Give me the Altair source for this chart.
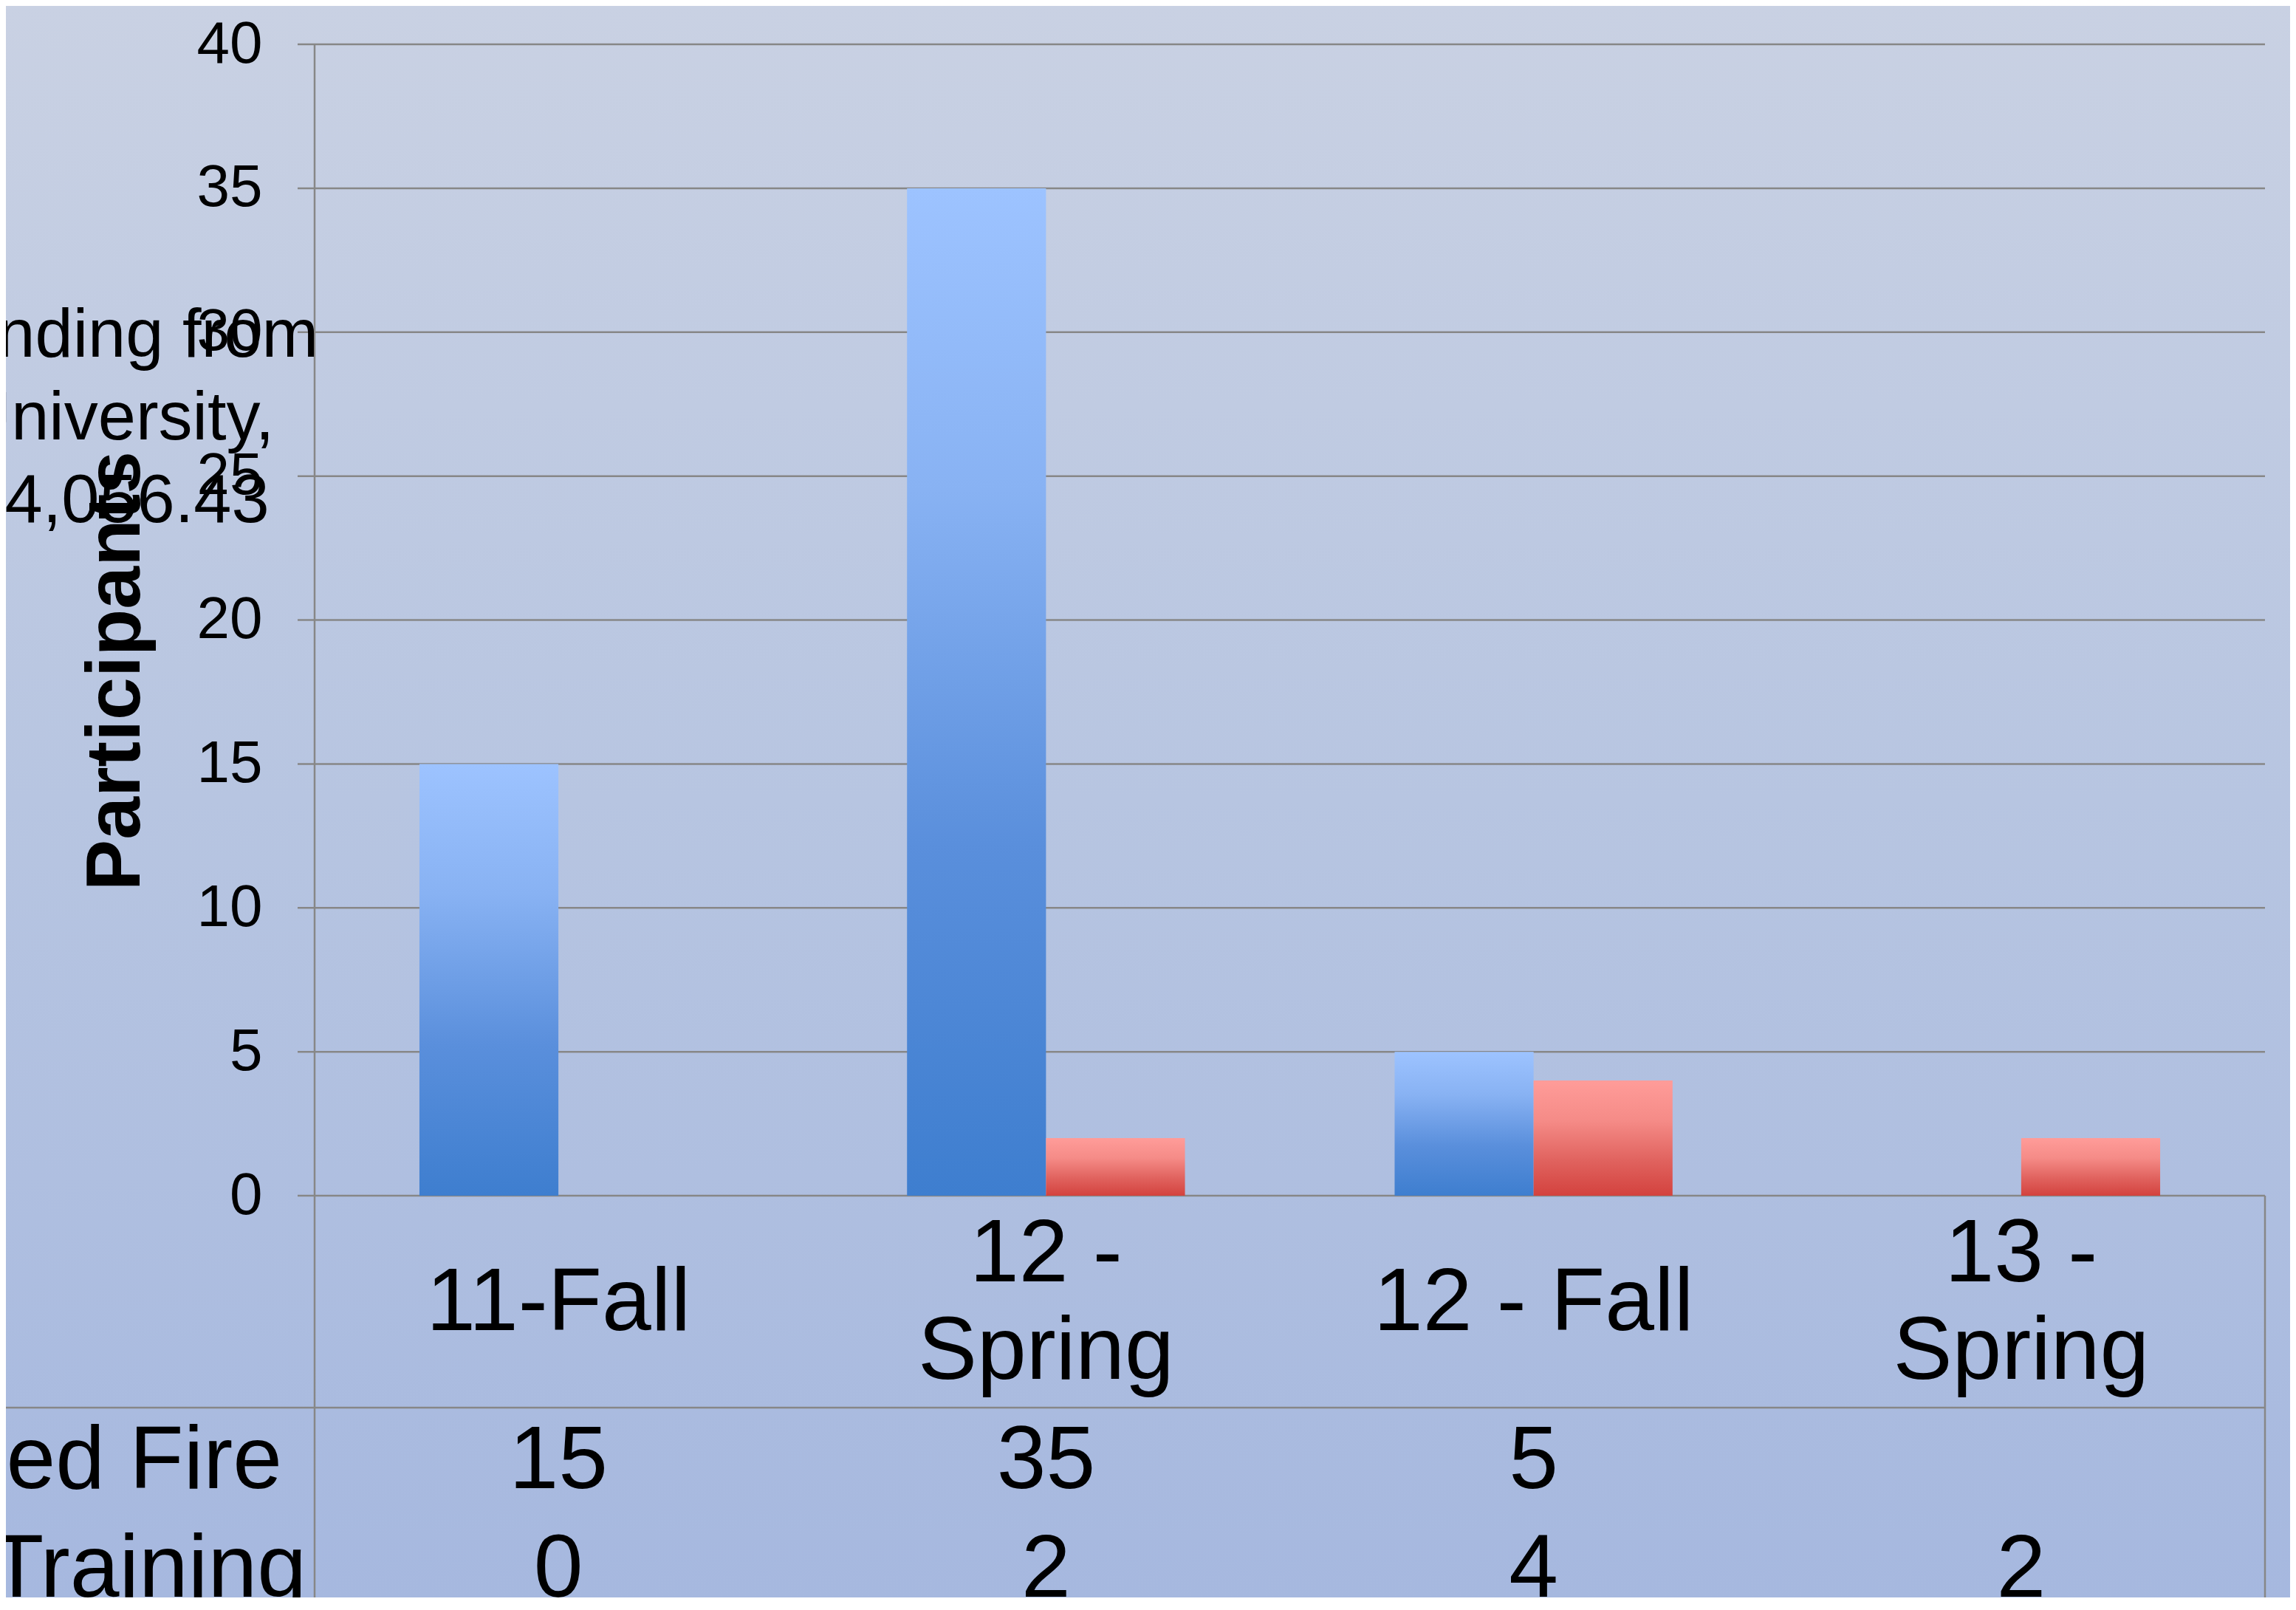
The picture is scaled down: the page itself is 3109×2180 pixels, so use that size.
import altair as alt
import pandas as pd

# ---------------- data ----------------
categories = ["11-Fall", "12 - Spring", "12 - Fall", "13 - Spring"]
category_labels = ["11-Fall", "12 -\nSpring", "12 - Fall", "13 -\nSpring"]
series = ["ed Fire", "Training"]
funded_values = [15, 35, 5, None]
training_values = [0, 2, 4, 2]
y_ticks = [0, 5, 10, 15, 20, 25, 30, 35, 40]
y_title = "Participants"
note_text = "Funding from\nUniversity,\n$4,056.43"

# ---------------- layout ----------------
FONT = "Liberation Sans"
W, H = 2641, 1559
PL, PT, PR, PB = 418, 52, 34, 544
LINE = "#878787"
CAT_Y = 1705
CAT_LH = 132

rows = []
for c, lab, f, t in zip(categories, category_labels, funded_values, training_values):
    rows.append({"cat": c, "label": lab, "series": series[0], "value": f})
    rows.append({"cat": c, "label": lab, "series": series[1], "value": t})
df = pd.DataFrame(rows)
ticks_df = pd.DataFrame({"tick": y_ticks})
one = pd.DataFrame({"k": [0]})

bg_grad = alt.LinearGradient(
    gradient="linear",
    stops=[alt.GradientStop(color="#c9d1e3", offset=0),
           alt.GradientStop(color="#b7c5e1", offset=0.5),
           alt.GradientStop(color="#a6b8df", offset=1)],
    x1=0, x2=0, y1=0, y2=1)
blue_grad = alt.LinearGradient(
    gradient="linear",
    stops=[alt.GradientStop(color="#9dc3ff", offset=0),
           alt.GradientStop(color="#88b2f3", offset=0.3),
           alt.GradientStop(color="#5a8fdc", offset=0.65),
           alt.GradientStop(color="#3e7ecf", offset=1)],
    x1=0, x2=0, y1=0, y2=1)
red_grad = alt.LinearGradient(
    gradient="linear",
    stops=[alt.GradientStop(color="#ff9c99", offset=0),
           alt.GradientStop(color="#f58b87", offset=0.35),
           alt.GradientStop(color="#e0625e", offset=0.7),
           alt.GradientStop(color="#d3423e", offset=1)],
    x1=0, x2=0, y1=0, y2=1)

X = alt.X("cat:N", sort=categories, axis=None,
          scale=alt.Scale(domain=categories, paddingInner=0.43, paddingOuter=0.215))
XO = alt.XOffset("series:N", sort=series,
                 scale=alt.Scale(domain=series, paddingInner=0, paddingOuter=0))
y_axis = alt.Axis(values=y_ticks, grid=False, ticks=False, domain=False,
                  labelFontSize=80, labelFont=FONT, labelColor="#000000",
                  labelPadding=71, labelFlush=False,
                  title=y_title, titleFont=FONT, titleFontSize=104,
                  titleFontWeight="bold", titleColor="#000000", titleAngle=270,
                  titleX=-238, titleY=848, titleAlign="center",
                  titleBaseline="alphabetic", zindex=1)
Y_SCALE = alt.Scale(domain=[0, 40], nice=False, zero=True)

background = alt.Chart(one).mark_rect(color=bg_grad).encode(
    x=alt.value(-PL), x2=alt.value(W + PR), y=alt.value(-PT), y2=alt.value(H + PB))

gridlines = alt.Chart(ticks_df).mark_rule(color=LINE, strokeWidth=2.5).encode(
    y=alt.Y("tick:Q", scale=Y_SCALE, axis=y_axis),
    x=alt.value(-23), x2=alt.value(W))

left_line = alt.Chart(one).mark_rule(color=LINE, strokeWidth=2.5).encode(
    x=alt.value(0), y=alt.value(0), y2=alt.value(H + PB))
right_line = alt.Chart(one).mark_rule(color=LINE, strokeWidth=2.5).encode(
    x=alt.value(W), y=alt.value(H), y2=alt.value(H + PB))
table_line = alt.Chart(one).mark_rule(color=LINE, strokeWidth=2.5).encode(
    x=alt.value(-PL), x2=alt.value(W), y=alt.value(1846))

base = alt.Chart(df)

bars_blue = base.transform_filter(alt.datum.series == series[0]).transform_filter(
    "isValid(datum.value)").mark_bar(color=blue_grad).encode(
    x=X, xOffset=XO, y=alt.Y("value:Q", scale=Y_SCALE, axis=y_axis))
bars_red = base.transform_filter(alt.datum.series == series[1]).transform_filter(
    "isValid(datum.value)").mark_bar(color=red_grad).encode(
    x=X, xOffset=XO, y=alt.Y("value:Q", scale=Y_SCALE, axis=y_axis))

# multi-line category labels: centre the block of lines vertically in the row
cat_text = base.transform_filter(alt.datum.series == series[0]).transform_calculate(
    ly=f"{CAT_Y} - (length(split(datum.label, '\\n')) - 1) * {CAT_LH / 2}"
).mark_text(
    font=FONT, fontSize=120, lineBreak="\n", lineHeight=CAT_LH,
    align="center", baseline="middle", color="#000000").encode(
    x=X, y=alt.Y("ly:Q", scale=None), text="label:N")

row_y = [1919, 2066]
row_x = [-44, -11]
value_layers = []
for s, yy, xx in zip(series, row_y, row_x):
    value_layers.append(
        base.transform_filter(alt.datum.series == s).transform_filter(
            "isValid(datum.value)").mark_text(
            font=FONT, fontSize=120, align="center", baseline="middle",
            color="#000000").encode(
            x=X, y=alt.value(yy), text=alt.Text("value:Q", format="d")))
    value_layers.append(
        alt.Chart(one).mark_text(
            font=FONT, fontSize=120, align="right", baseline="middle",
            color="#000000").encode(
            x=alt.value(xx), y=alt.value(yy), text=alt.value(s)))

note = alt.Chart(one).mark_text(
    text=note_text, font=FONT, fontSize=92, lineBreak="\n", lineHeight=112,
    align="center", baseline="middle", color="#000000").encode(
    x=alt.value(-266), y=alt.value(395))

chart = alt.layer(
    background, gridlines, left_line, right_line, table_line,
    bars_blue, bars_red, cat_text, *value_layers, note
).properties(
    width=W, height=H,
    padding={"left": PL, "top": PT, "right": PR, "bottom": PB},
    autosize=alt.AutoSizeParams(type="none"),
    background="#b8c6e1",
).configure_view(strokeWidth=0)

chart.save("out.html", embed_options={"renderer": "svg", "actions": False})
